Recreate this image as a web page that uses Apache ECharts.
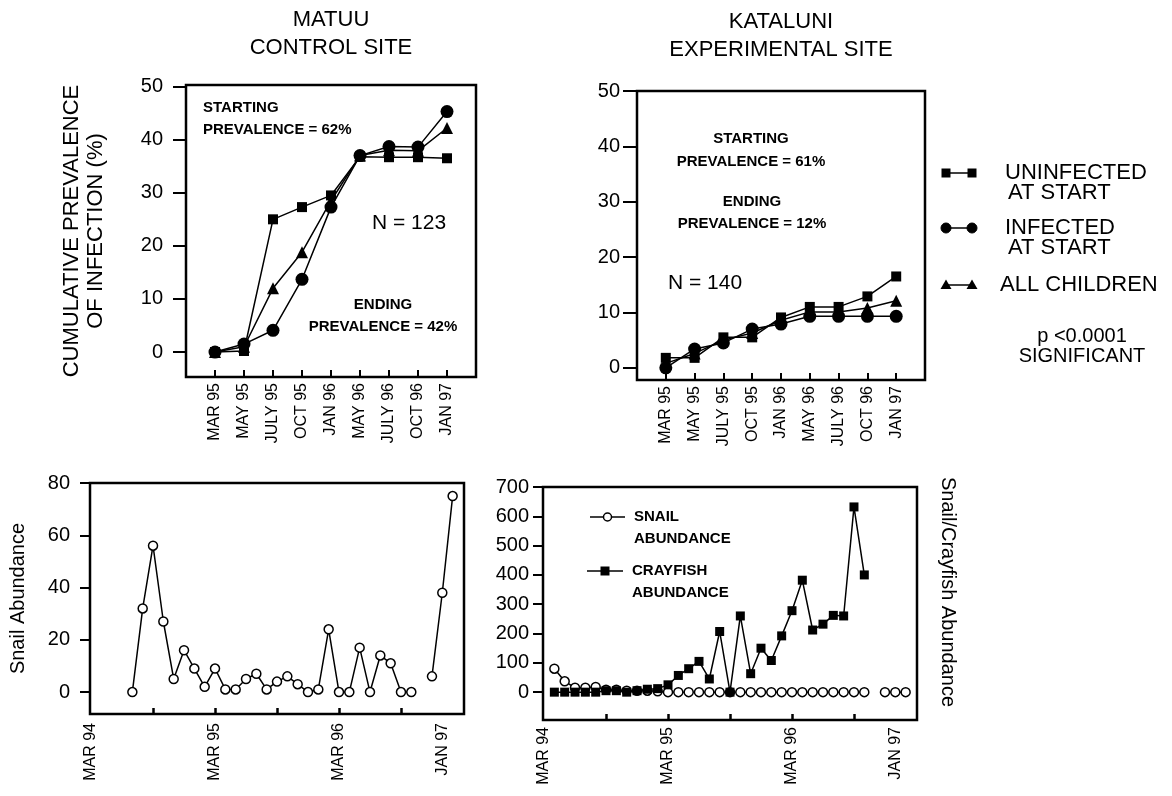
<!DOCTYPE html>
<html><head><meta charset="utf-8">
<script src="https://cdn.jsdelivr.net/npm/echarts@6/dist/echarts.min.js"></script>
<style>html,body{margin:0;padding:0;background:#fff}#c{width:1172px;height:796px}</style>
</head><body><div id="c"></div>
<script>
// ---------- DATA ----------
const surveyDates = ['MAR 95','MAY 95','JULY 95','OCT 95','JAN 96','MAY 96','JULY 96','OCT 96','JAN 97'];
const yTicksPrev = [0,10,20,30,40,50];

const matuuUninfected = [0, 0.2, 25, 27.3, 29.5, 36.8, 36.7, 36.7, 36.5];
const matuuInfected   = [0, 1.5, 4.1, 13.7, 27.3, 37, 38.7, 38.6, 45.3];
const matuuAll        = [0, 1.0, 12, 18.8, 28.5, 37, 38, 37.9, 42.2];

const katUninfected = [1.8, 1.8, 5.5, 5.5, 9.1, 11.0, 11.0, 12.9, 16.5];
const katInfected   = [0, 3.4, 4.5, 7.0, 7.9, 9.3, 9.3, 9.3, 9.3];
const katAll        = [0.8, 2.6, 5.0, 6.3, 8.6, 10.1, 10.1, 10.8, 12.1];

// monthly field samples (YYYY-MM)
const matuuSnailDates = ['1994-07','1994-08','1994-09','1994-10','1994-11','1994-12','1995-01','1995-02',
  '1995-03','1995-04','1995-05','1995-06','1995-07','1995-08','1995-09','1995-10','1995-11','1995-12',
  '1996-01','1996-02','1996-03','1996-04','1996-05','1996-06','1996-07','1996-08','1996-09','1996-10',
  '1996-11','1996-12','1997-01','1997-02'];
const matuuSnail = [0,32,56,27,5,16,9,2,9,1,1,5,7,1,4,6,3,0,1,24,0,0,17,0,14,11,0,0,null,6,38,75];

const katDates = ['1994-04','1994-05','1994-06','1994-07','1994-08','1994-09','1994-10','1994-11','1994-12',
  '1995-01','1995-02','1995-03','1995-04','1995-05','1995-06','1995-07','1995-08','1995-09','1995-10',
  '1995-11','1995-12','1996-01','1996-02','1996-03','1996-04','1996-05','1996-06','1996-07','1996-08',
  '1996-09','1996-10','1996-11','1996-12','1997-01','1997-02'];
const katSnail = [80,37,15,15,18,8,8,5,5,5,3,0,0,0,0,0,0,0,0,0,0,0,0,0,0,0,0,0,0,0,0,null,0,0,0];
const katCrayfish = [0,0,0,0,0,5,5,0,5,10,12,25,57,80,105,45,207,0,260,63,150,108,192,278,382,212,232,262,260,632,400,null,null,null,null];

const timeLabelDates = ['1994-03','1995-03','1996-03','1997-01'];
const timeLabels = ['MAR 94','MAR 95','MAR 96','JAN 97'];
const timeTickDates = ['1994-09','1995-03','1995-09','1996-03','1996-09'];
const snailTicks = [0,20,40,60,80];
const crayTicks = [0,100,200,300,400,500,600,700];

// ---------- HELPERS ----------
const FONT = 'Liberation Sans, Arial, Helvetica, sans-serif';
const monthIdx = d => { const [y,m] = d.split('-').map(Number); return (y-1994)*12 + (m-3); };
const idxPairs = arr => arr.map((v,i)=>[i,v]);
const datePairs = (dates, vals) => dates.map((d,i)=>[monthIdx(d), vals[i]]);
const labelByMonth = {}; timeLabelDates.forEach((d,i)=>labelByMonth[monthIdx(d)] = timeLabels[i]);

function catX(gi){
  return {gridIndex:gi, type:'value', min:-1, max:9, position:'bottom',
    axisLine:{show:false, onZero:false}, splitLine:{show:false},
    axisTick:{show:true, inside:true, length:7, customValues:surveyDates.map((_,i)=>i), lineStyle:{color:'#000',width:2}},
    axisLabel:{customValues:surveyDates.map((_,i)=>i), formatter:v=>surveyDates[v]||'', rotate:90, fontSize:16, color:'#000', margin:6, fontFamily:FONT}};
}
function timeX(gi, margin){
  return {gridIndex:gi, type:'value', min:-0.1, max:36.1, position:'bottom',
    axisLine:{show:false, onZero:false}, splitLine:{show:false},
    axisTick:{show:true, inside:true, length:6, customValues:timeTickDates.map(monthIdx), lineStyle:{color:'#000',width:2.5}},
    axisLabel:{customValues:timeLabelDates.map(monthIdx), formatter:v=>labelByMonth[v]||'', rotate:90, fontSize:16, color:'#000', margin:margin, fontFamily:FONT}};
}
function valY(gi, min, max, ticks, margin, tickLen, extra){
  return Object.assign({gridIndex:gi, type:'value', min:min, max:max, position:'left',
    axisLine:{show:false, onZero:false}, splitLine:{show:false},
    axisTick:{show:true, length:tickLen, customValues:ticks, lineStyle:{color:'#000',width:2}},
    axisLabel:{customValues:ticks, fontSize:20, color:'#000', margin:margin, fontFamily:FONT}}, extra||{});
}
const lineBase = {type:'line', color:'#000', lineStyle:{color:'#000', width:1.5}, itemStyle:{color:'#000'}, animation:false};
function prevSeries(gi, name, data, symbol, size){
  return Object.assign({}, lineBase, {name, xAxisIndex:gi, yAxisIndex:gi, data:idxPairs(data), symbol, symbolSize:size});
}
function txt(x,y,text,opt){
  opt = opt||{};
  return {type:'text', x:x, y:y, rotation:opt.rotation||0, silent:true,
    style:{text:text, fill:'#000', fontSize:opt.size||14, fontWeight:opt.weight||'normal', fontFamily:FONT,
      align:opt.align||'left', verticalAlign:'middle'}};
}
const gridStyle = {show:true, borderColor:'#000', borderWidth:2.5, backgroundColor:'transparent'};

// legend symbols
function legendSym(x1,x2,y,kind){
  const els = [{type:'line', shape:{x1:x1,y1:y,x2:x2,y2:y}, style:{stroke:'#000', lineWidth:1.5}}];
  [x1,x2].forEach(cx=>{
    if(kind==='rect') els.push({type:'rect', shape:{x:cx-4.5,y:y-4.5,width:9,height:9}, style:{fill:'#000'}});
    if(kind==='circle') els.push({type:'circle', shape:{cx:cx,cy:y,r:5}, style:{fill:'#000', stroke:'#000', lineWidth:1}});
    if(kind==='tri') els.push({type:'polygon', shape:{points:[[cx,y-5.5],[cx+5.5,y+4],[cx-5.5,y+4]]}, style:{fill:'#000'}});
  });
  return els;
}
function inlineSym(x1,x2,y,kind){
  const cx=(x1+x2)/2;
  const els=[{type:'line', shape:{x1:x1,y1:y,x2:x2,y2:y}, style:{stroke:'#000', lineWidth:1.5}}];
  if(kind==='circle') els.push({type:'circle', shape:{cx:cx,cy:y,r:4}, style:{fill:'#fff', stroke:'#000', lineWidth:1.5}});
  else els.push({type:'rect', shape:{x:cx-4.5,y:y-4.5,width:9,height:9}, style:{fill:'#000'}});
  return els;
}

const graphics = [].concat(
  [txt(203,108,'STARTING',{weight:'bold',size:15}), txt(203,130,'PREVALENCE = 62%',{weight:'bold',size:15}),
   txt(372,223,'N = 123',{size:21}),
   txt(383,305,'ENDING',{weight:'bold',size:15,align:'center'}), txt(383,327,'PREVALENCE = 42%',{weight:'bold',size:15,align:'center'}),
   txt(751,139,'STARTING',{weight:'bold',size:15,align:'center'}), txt(751,162,'PREVALENCE = 61%',{weight:'bold',size:15,align:'center'}),
   txt(752,202,'ENDING',{weight:'bold',size:15,align:'center'}), txt(752,224,'PREVALENCE = 12%',{weight:'bold',size:15,align:'center'}),
   txt(668,283,'N = 140',{size:21}),
   txt(1005,173,'UNINFECTED',{size:22}), txt(1008,193,'AT START',{size:22}),
   txt(1005,228,'INFECTED',{size:22}), txt(1008,248,'AT START',{size:22}),
   txt(1000,285,'ALL CHILDREN',{size:22}),
   txt(1082,336,'p <0.0001',{size:20,align:'center'}), txt(1082,356,'SIGNIFICANT',{size:20,align:'center'}),
   txt(634,517,'SNAIL',{weight:'bold',size:15}), txt(634,539,'ABUNDANCE',{weight:'bold',size:15}),
   txt(632,571,'CRAYFISH',{weight:'bold',size:15}), txt(632,593,'ABUNDANCE',{weight:'bold',size:15}),
   txt(948,592,'Snail/Crayfish Abundance',{size:20,align:'center',rotation:-Math.PI/2})],
  legendSym(946,972,173,'rect'), legendSym(946,972,228,'circle'), legendSym(946,972,285,'tri'),
  inlineSym(590,625,517,'circle'), inlineSym(587,623,571,'rect')
);

const option = {
  animation:false,
  backgroundColor:'#fff',
  textStyle:{fontFamily:FONT, color:'#000'},
  title:[
    {text:'MATUU\nCONTROL SITE', left:331, top:6, textAlign:'center', padding:0,
     textStyle:{fontSize:22, fontWeight:'normal', lineHeight:28, color:'#000', fontFamily:FONT}},
    {text:'KATALUNI\nEXPERIMENTAL SITE', left:781, top:8, textAlign:'center', padding:0,
     textStyle:{fontSize:22, fontWeight:'normal', lineHeight:28, color:'#000', fontFamily:FONT}}
  ],
  grid:[
    Object.assign({left:186, top:85, width:290, height:292}, gridStyle),
    Object.assign({left:637, top:91, width:288, height:289}, gridStyle),
    Object.assign({left:90, top:483, width:374, height:231}, gridStyle),
    Object.assign({left:543, top:487, width:374, height:233}, gridStyle)
  ],
  xAxis:[catX(0), catX(1), timeX(2,9), timeX(3,7)],
  yAxis:[
    valY(0,-4.7,50.3,yTicksPrev,23,13,{name:'CUMULATIVE PREVALENCE\nOF INFECTION (%)', nameLocation:'middle', nameRotate:90, nameGap:78,
      nameTextStyle:{fontSize:22, lineHeight:24, color:'#000', fontFamily:FONT}}),
    valY(1,-2.2,50,yTicksPrev,17,14),
    valY(2,-8.4,80,snailTicks,20,10,{name:'Snail Abundance', nameLocation:'middle', nameRotate:90, nameGap:62,
      nameTextStyle:{fontSize:20, color:'#000', fontFamily:FONT}}),
    valY(3,-95,700,crayTicks,14,10)
  ],
  series:[
    prevSeries(0,'UNINFECTED AT START',matuuUninfected,'rect',10),
    prevSeries(0,'ALL CHILDREN',matuuAll,'triangle',12),
    prevSeries(0,'INFECTED AT START',matuuInfected,'circle',13),
    prevSeries(1,'UNINFECTED AT START',katUninfected,'rect',10),
    prevSeries(1,'ALL CHILDREN',katAll,'triangle',12),
    prevSeries(1,'INFECTED AT START',katInfected,'circle',13),
    Object.assign({}, lineBase, {name:'Snail Abundance', xAxisIndex:2, yAxisIndex:2, data:datePairs(matuuSnailDates,matuuSnail),
      symbol:'circle', symbolSize:9, itemStyle:{color:'#fff', borderColor:'#000', borderWidth:1.5}}),
    Object.assign({}, lineBase, {name:'SNAIL ABUNDANCE', xAxisIndex:3, yAxisIndex:3, data:datePairs(katDates,katSnail),
      symbol:'circle', symbolSize:9, itemStyle:{color:'#fff', borderColor:'#000', borderWidth:1.5}}),
    Object.assign({}, lineBase, {name:'CRAYFISH ABUNDANCE', xAxisIndex:3, yAxisIndex:3, data:datePairs(katDates,katCrayfish),
      symbol:'rect', symbolSize:9})
  ],
  graphic:graphics
};
const chart = echarts.init(document.getElementById('c'), null, {renderer:'canvas'});
chart.setOption(option);
</script></body></html>
